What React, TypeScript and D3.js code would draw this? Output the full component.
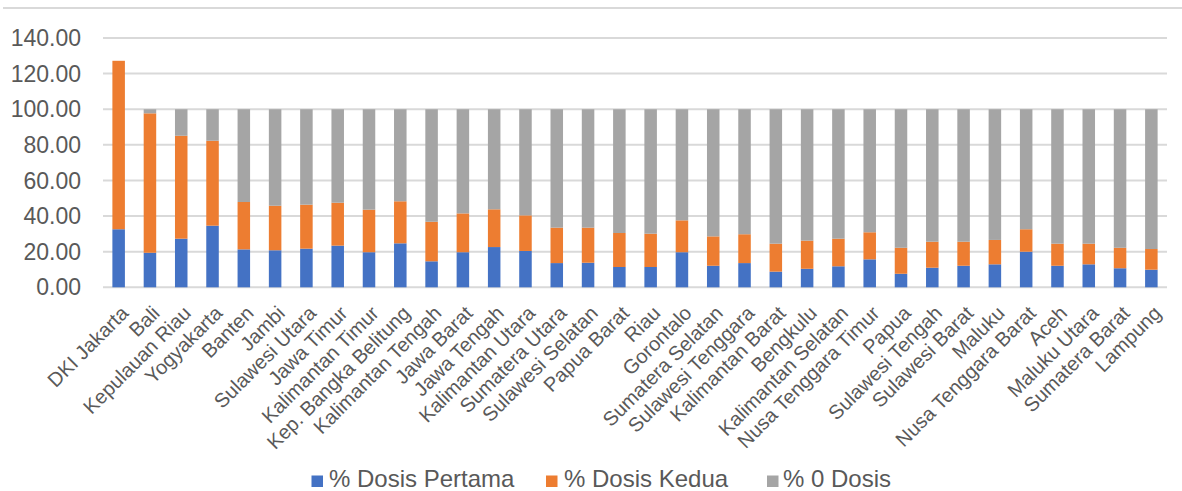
import React from "react";
import * as d3 from "d3";

// Provinces, ordered as in the chart
const provinces: string[] = [
  "DKI Jakarta", "Bali", "Kepulauan Riau", "Yogyakarta", "Banten", "Jambi",
  "Sulawesi Utara", "Jawa Timur", "Kalimantan Timur", "Kep. Bangka Belitung",
  "Kalimantan Tengah", "Jawa Barat", "Jawa Tengah", "Kalimantan Utara",
  "Sumatera Utara", "Sulawesi Selatan", "Papua Barat", "Riau", "Gorontalo",
  "Sumatera Selatan", "Sulawesi Tenggara", "Kalimantan Barat", "Bengkulu",
  "Kalimantan Selatan", "Nusa Tenggara Timur", "Papua", "Sulawesi Tengah",
  "Sulawesi Barat", "Maluku", "Nusa Tenggara Barat", "Aceh", "Maluku Utara",
  "Sumatera Barat", "Lampung",
];

// % first dose
const dosisPertama: number[] = [
  32.6, 19.4, 27.3, 34.6, 21.3, 20.8, 21.7, 23.4, 19.7, 24.7,
  14.6, 19.7, 22.6, 20.4, 13.6, 13.8, 11.4, 11.4, 19.7, 12.1,
  13.6, 8.8, 10.4, 11.8, 15.7, 7.6, 11.0, 12.1, 12.9, 20.0,
  12.1, 12.9, 10.7, 9.9,
];

// % second dose
const dosisKedua: number[] = [
  94.6, 78.3, 57.8, 47.7, 26.6, 25.0, 24.7, 24.1, 23.9, 23.6,
  22.2, 21.8, 21.2, 20.0, 19.9, 19.7, 19.1, 18.7, 17.9, 16.5,
  16.2, 15.7, 15.8, 15.5, 15.2, 14.6, 14.6, 13.5, 13.7, 12.6,
  12.4, 11.6, 11.5, 11.6,
];

// % zero dose
const dosisNol: number[] = [
  0.0, 2.3, 14.9, 17.7, 52.1, 54.2, 53.6, 52.5, 56.4, 51.7,
  63.2, 58.5, 56.2, 59.6, 66.5, 66.5, 69.5, 69.9, 62.4, 71.4,
  70.2, 75.5, 73.8, 72.7, 69.1, 77.8, 74.4, 74.4, 73.4, 67.4,
  75.5, 75.5, 77.8, 78.5,
];

const yTicks: number[] = [0, 20, 40, 60, 80, 100, 120, 140];

const seriesNames: string[] = ["% Dosis Pertama", "% Dosis Kedua", "% 0 Dosis"];
const seriesColors: string[] = ["#4472C4", "#ED7D31", "#A5A5A5"];

const W = 1182;
const H = 491;
const FONT = "'Liberation Sans', Arial, sans-serif";
const TEXT = "#595959";
const GRID = "#D9D9D9";

type Row = { name: string; p: number; k: number; z: number };

export default function App() {
  const rows: Row[] = provinces.map((name, i) => ({
    name,
    p: dosisPertama[i],
    k: dosisKedua[i],
    z: dosisNol[i],
  }));

  const stacked = d3.stack<Row>().keys(["p", "k", "z"])(rows);

  const x = d3
    .scaleBand<string>()
    .domain(provinces)
    .range([103, 1167])
    .paddingInner(0.6)
    .paddingOuter(0.3);

  const y = d3.scaleLinear().domain([0, 140]).range([287.3, 38]);
  const fmt = d3.format(".2f");

  const legendItems = [
    { sx: 311.5, tx: 329 },
    { sx: 546, tx: 564 },
    { sx: 767, tx: 783 },
  ];

  return (
    <div style={{ position: "absolute", left: 0, top: 0 }}>
      <svg width={W} height={H} style={{ display: "block", background: "#fff" }}>
        {/* chart frame top edge */}
        <line x1={3} x2={W} y1={8} y2={8} stroke={GRID} strokeWidth={2} />

        {/* gridlines */}
        {yTicks.map((t) => (
          <line
            key={`g${t}`}
            x1={103}
            x2={1167}
            y1={y(t)}
            y2={y(t)}
            stroke={GRID}
            strokeWidth={2}
          />
        ))}

        {/* y tick labels */}
        {yTicks.map((t) => (
          <text
            key={`t${t}`}
            x={81}
            y={y(t)}
            dy="0.35em"
            textAnchor="end"
            fontFamily={FONT}
            fontSize={23}
            fill={TEXT}
          >
            {fmt(t)}
          </text>
        ))}

        {/* stacked bars */}
        {stacked.map((layer, li) => (
          <g key={layer.key} fill={seriesColors[li]}>
            {layer.map((d) => {
              const h = y(d[0]) - y(d[1]);
              if (h <= 0) return null;
              return (
                <rect
                  key={d.data.name}
                  x={x(d.data.name)}
                  y={y(d[1])}
                  width={x.bandwidth()}
                  height={h}
                />
              );
            })}
          </g>
        ))}

        {/* category labels */}
        {provinces.map((p) => {
          const cx = (x(p) ?? 0) + x.bandwidth() / 2;
          return (
            <text
              key={`c${p}`}
              transform={`translate(${cx + 11},${314.5}) rotate(-45)`}
              textAnchor="end"
              fontFamily={FONT}
              fontSize={20}
              fill={TEXT}
            >
              {p}
            </text>
          );
        })}

        {/* legend */}
        {seriesNames.map((s, i) => (
          <g key={s}>
            <rect
              x={legendItems[i].sx}
              y={475.5}
              width={11.5}
              height={11.5}
              fill={seriesColors[i]}
            />
            <text
              x={legendItems[i].tx}
              y={487}
              fontFamily={FONT}
              fontSize={24}
              fill={TEXT}
            >
              {s}
            </text>
          </g>
        ))}
      </svg>
    </div>
  );
}
